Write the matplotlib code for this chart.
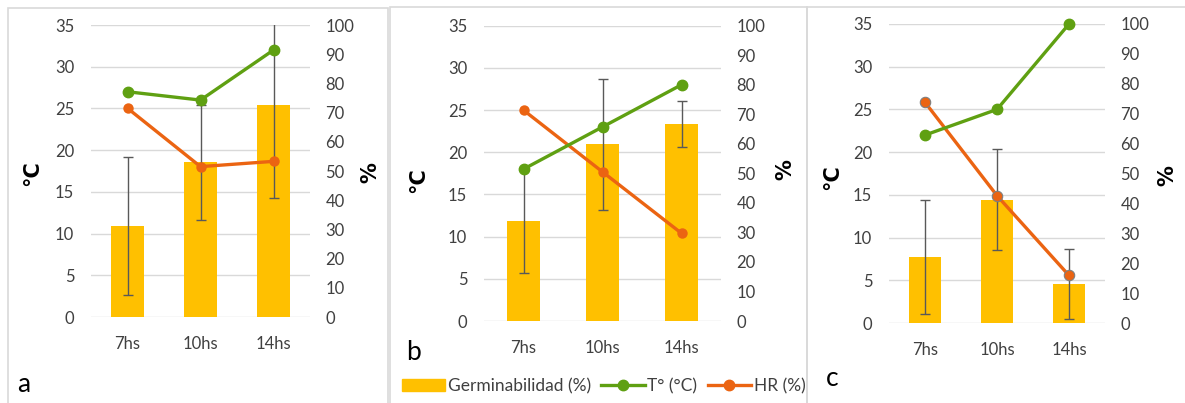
import numpy as np
import matplotlib
matplotlib.use("Agg")
from matplotlib import pyplot as plt
from matplotlib.patches import Rectangle
from matplotlib.lines import Line2D

plt.rcParams['font.family'] = ['Lato', 'DejaVu Sans']

horas = ['7hs', '10hs', '14hs']

# Germinabilidad (%) y su desvío, por panel
germ_a = [31.3, 53.0, 72.6]
germ_err_a = [23.6, 19.7, 32.0]
germ_b = [33.9, 59.9, 66.7]
germ_err_b = [17.5, 22.2, 7.9]
germ_c = [22.1, 41.2, 13.0]
germ_err_c = [19.1, 16.9, 11.8]

# Temperatura (°C)
temp_a = [27, 26, 32]
temp_b = [18, 23, 28]
temp_c = [22, 25, 35]

# Humedad relativa (%)
hr_a = [71.5, 51.5, 53.3]
hr_b = [71.4, 50.5, 29.7]
hr_c = [73.8, 42.6, 15.9]

COL_BAR = '#FFC000'
COL_T = '#5FA012'
COL_HR = '#EB6412'
COL_GRID = '#D9D9D9'

W, H = 1185, 403
fig = plt.figure(figsize=(W / 100, H / 100), dpi=100)


def px_rect(x0, x1, top, bottom):
    return [x0 / W, (H - bottom) / H, (x1 - x0) / W, (bottom - top) / H]


def panel(rect, germ, germ_err, temp, hr, bar_w, hr_edge):
    ax = fig.add_axes(rect)
    ax2 = ax.twinx()
    x = np.arange(len(horas))

    ax.set_ylim(0, 35)
    ax.set_yticks(range(0, 36, 5))
    ax2.set_ylim(0, 100)
    ax2.set_yticks(range(0, 101, 10))
    ax.set_xlim(-0.5, 2.5)
    ax.set_xticks(x)
    ax.set_xticklabels(horas)

    for a in (ax, ax2):
        for s in a.spines.values():
            s.set_visible(False)
        a.tick_params(length=0, labelsize=12, colors='#404040')
    ax.tick_params(axis='y', pad=12)
    ax2.tick_params(axis='y', pad=11)
    ax.tick_params(axis='x', pad=14)

    for v in range(0, 36, 5):
        ax.axhline(v, color=COL_GRID, lw=1, zorder=0)

    ax2.bar(x, germ, width=bar_w, color=COL_BAR, zorder=2)
    ax2.errorbar(x, germ, yerr=germ_err, fmt='none', ecolor='#595959',
                 elinewidth=1, capsize=3.5, capthick=1, zorder=3)
    ax2.plot(x, hr, color=COL_HR, lw=2.4, marker='o', ms=7.5,
             mec=hr_edge, mew=0.8 if hr_edge != COL_HR else 0, zorder=4)
    # temperatura en el eje primario, pero dibujada por encima
    ax2.plot(x, temp, color=COL_T, lw=2.4, marker='o', ms=7.5,
             transform=ax.transData, zorder=5, clip_on=False)
    ax2.set_xlim(-0.5, 2.5)
    return ax, ax2


panel(px_rect(91, 310, 25, 317), germ_a, germ_err_a, temp_a, hr_a, 0.45, COL_HR)
panel(px_rect(484, 721, 25.7, 321), germ_b, germ_err_b, temp_b, hr_b, 0.43, COL_HR)
panel(px_rect(889, 1105, 24, 323), germ_c, germ_err_c, temp_c, hr_c, 0.45, '#7F7F7F')

# marcos de cada panel
for x0, x1, y0 in [(8, 388, 8), (390, 807, 7), (807, 1190, 7)]:
    fig.add_artist(Rectangle((x0 / W, -0.05), (x1 - x0) / W, (H - y0) / H + 0.05,
                             transform=fig.transFigure, fill=False,
                             edgecolor=COL_GRID, lw=1.2))

# títulos de ejes
for xc, yc in [(32, 173), (418, 180), (832, 177)]:
    fig.text(xc / W, 1 - yc / H, '°C', rotation=90, fontsize=15,
             fontweight='bold', family='DejaVu Sans', ha='center', va='center')
for xc, yc in [(370, 173), (785, 170), (1167, 176)]:
    fig.text(xc / W, 1 - yc / H, '%', rotation=90, fontsize=15,
             fontweight='bold', family='DejaVu Sans', ha='center', va='center')

# letras de panel
for letra, xc, yc in [('a', 24, 385), ('b', 413, 353), ('c', 832, 379)]:
    fig.text(xc / W, 1 - yc / H, letra, fontsize=19, ha='center', va='center')

handles = [
    Rectangle((0, 0), 1, 1, color=COL_BAR),
    Line2D([], [], color=COL_T, lw=2.4, marker='o', ms=7.5),
    Line2D([], [], color=COL_HR, lw=2.4, marker='o', ms=7.5),
]
fig.legend(handles, ['Germinabilidad (%)', 'T° (°C)', 'HR (%)'], ncol=3,
           loc='center left', bbox_to_anchor=(393 / W, 1 - 386 / H),
           frameon=False, fontsize=12.5, handlelength=2.5, handletextpad=0.15,
           columnspacing=0.6, borderpad=0, labelcolor='#404040')

fig.savefig('out.png', dpi=100)
